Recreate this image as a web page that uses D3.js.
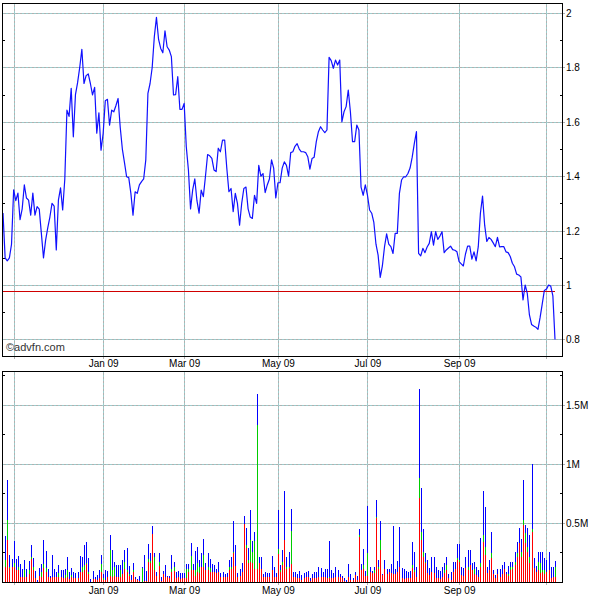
<!DOCTYPE html>
<html><head><meta charset="utf-8">
<script src="https://cdn.jsdelivr.net/npm/d3@7"></script>
<style>
body{margin:0;background:#fff;}
svg{display:block;font-family:"Liberation Sans",Arial,sans-serif;}
</style></head>
<body>
<svg id="c" width="600" height="600"></svg>
<script>
// ---- data (trading-day index 0..259, late Oct 2008 -> early Nov 2009) ----
const price = [
1.265,1.10,1.089,1.10,1.15,1.35,1.31,1.338,1.24,1.28,
1.368,1.32,1.312,1.257,1.338,1.257,1.288,1.279,1.19,1.10,
1.165,1.21,1.25,1.30,1.29,1.129,1.312,1.357,1.276,1.39,
1.643,1.62,1.723,1.545,1.70,1.744,1.80,1.867,1.741,1.77,
1.776,1.741,1.699,1.727,1.558,1.633,1.496,1.558,1.678,1.683,
1.588,1.643,1.637,1.66,1.686,1.58,1.50,1.45,1.398,1.395,
1.337,1.257,1.343,1.337,1.368,1.38,1.39,1.46,1.705,1.741,
1.80,1.913,1.984,1.903,1.87,1.854,1.935,1.876,1.864,1.84,
1.699,1.70,1.766,1.646,1.646,1.668,1.508,1.423,1.28,1.35,
1.39,1.31,1.264,1.349,1.325,1.40,1.48,1.475,1.466,1.423,
1.417,1.503,1.49,1.533,1.533,1.43,1.343,1.355,1.27,1.337,
1.30,1.22,1.30,1.355,1.36,1.28,1.25,1.245,1.33,1.30,
1.44,1.40,1.41,1.34,1.368,1.39,1.46,1.43,1.32,1.376,
1.376,1.43,1.453,1.44,1.40,1.487,1.49,1.51,1.52,1.50,
1.49,1.49,1.487,1.472,1.426,1.465,1.47,1.527,1.564,1.582,
1.57,1.56,1.57,1.837,1.825,1.797,1.827,1.809,1.827,1.60,
1.637,1.656,1.717,1.637,1.527,1.527,1.588,1.57,1.36,1.33,
1.368,1.331,1.276,1.264,1.23,1.15,1.11,1.028,1.07,1.14,
1.188,1.15,1.141,1.116,1.19,1.19,1.337,1.386,1.398,1.398,
1.41,1.43,1.47,1.521,1.564,1.116,1.107,1.135,1.119,1.14,
1.153,1.196,1.147,1.196,1.168,1.18,1.196,1.119,1.129,1.136,
1.143,1.13,1.128,1.122,1.086,1.078,1.07,1.114,1.143,1.143,
1.095,1.122,1.089,1.141,1.264,1.327,1.22,1.16,1.175,1.168,
1.155,1.141,1.175,1.14,1.141,1.141,1.122,1.119,1.105,1.08,
1.067,1.04,1.037,1.03,0.945,1.0,0.969,0.89,0.855,0.849,
0.845,0.837,0.88,0.93,0.98,0.985,1.0,0.996,0.96,0.80
];
const prevClose = 0.977;

// volume segments, thousands of shares
const volRed = [
0,130,356,116,130,130,102,102,45,40,
40,40,68,192,102,31,0,51,40,116,
88,40,31,40,40,40,40,45,31,31,
40,23,40,31,31,31,88,88,102,153,
68,0,23,23,17,31,88,17,17,40,
51,45,51,40,45,40,68,107,88,51,
17,88,23,17,11,0,11,11,172,164,
407,102,51,136,11,68,45,40,31,88,
96,31,40,23,31,31,31,88,102,102,
51,88,79,124,124,102,102,88,88,88,
73,88,45,40,40,40,102,107,249,136,
40,51,88,492,285,164,172,158,110,110,
158,107,45,45,40,40,102,45,40,237,
88,144,356,107,116,153,45,45,31,31,
17,31,40,45,11,31,31,31,40,40,
40,40,31,31,31,31,40,45,45,31,
11,0,45,17,17,59,17,384,102,107,
51,51,88,73,73,540,107,271,59,107,
68,88,73,68,68,88,130,31,23,31,
31,31,116,88,45,709,356,215,158,73,
59,88,73,31,31,23,45,73,102,31,
17,88,107,186,172,59,51,116,102,144,
102,68,59,45,130,342,229,73,102,201,
68,31,68,45,68,107,68,51,102,107,
144,215,328,215,483,328,257,158,427,116,
88,102,73,88,68,88,102,31,45,45
];
const volGreen = [
0,56,169,14,0,28,0,28,0,0,
62,0,34,17,28,0,0,0,48,37,
28,0,0,0,0,0,33,0,0,28,
62,0,19,0,0,0,0,42,42,11,
20,0,0,0,0,0,65,20,0,0,
220,57,79,0,0,62,0,65,14,17,
0,14,0,0,0,120,0,0,20,17,
0,107,0,36,0,0,0,0,0,19,
28,0,0,0,0,0,76,19,118,0,
51,76,51,6,105,0,28,28,0,0,
0,0,0,0,0,0,28,23,8,0,
0,0,0,0,29,22,184,99,240,1221,
0,0,0,0,0,0,0,0,0,40,
14,28,0,23,14,279,0,0,0,0,
0,0,0,0,0,0,0,0,0,0,
0,0,0,9,0,0,0,0,0,0,
0,0,0,0,0,0,0,14,0,37,
0,198,0,0,29,14,23,85,0,0,
0,0,0,0,0,0,0,0,0,0,
0,0,28,14,0,170,71,42,14,0,
0,0,0,0,0,0,0,29,42,0,
0,0,0,15,14,0,0,0,28,0,
0,39,0,0,28,56,70,0,0,42,
0,0,0,0,0,0,0,17,28,23,
28,34,5,42,42,90,42,57,19,0,
0,70,85,14,34,0,0,0,0,85
];
const volBlue = [
0,207,339,99,62,189,90,90,108,67,
84,67,79,105,71,59,17,65,65,203,
150,67,20,189,67,48,71,57,71,48,
107,65,57,57,48,57,132,79,170,175,
113,23,70,17,42,71,76,31,85,56,
127,169,42,104,99,42,118,99,183,68,
42,62,22,6,40,10,218,82,130,68,
70,40,37,77,34,25,99,11,20,122,
48,57,56,56,48,48,46,46,108,51,
164,135,56,119,135,62,119,76,65,56,
34,84,34,48,28,39,56,85,263,178,
39,56,76,70,141,105,254,90,77,262,
57,102,23,43,39,39,118,85,39,333,
42,99,418,85,127,187,43,43,37,62,
42,48,48,48,20,37,57,57,90,76,
48,67,76,310,71,42,90,57,23,20,
20,17,108,51,14,29,34,51,51,136,
42,395,42,20,28,141,56,161,9,79,
39,19,80,409,39,93,339,85,84,62,
57,62,198,155,85,757,373,192,77,113,
57,121,136,99,71,70,85,62,65,37,
71,84,65,121,136,65,65,93,141,127,
62,65,71,57,212,376,339,57,84,184,
34,28,45,68,76,65,20,68,42,42,
85,93,122,105,339,65,156,183,551,85,
48,85,99,155,99,98,155,93,79,51
];

const gridDays = [5,47,85,129,171,214,255];
const labelDays = [47,85,129,171,214];
const monthLabels = ["Jan 09","Mar 09","May 09","Jul 09","Sep 09"];
const priceTicks = [0.8,1.0,1.2,1.4,1.6,1.8,2.0];
const priceTickLabels = ["0.8","1","1.2","1.4","1.6","1.8","2"];
const priceMinor = [0.9,1.1,1.3,1.5,1.7,1.9];
const volTicks = [500,1000,1500];
const volTickLabels = ["0.5M","1M","1.5M"];
const volMinor = [250,750,1250,1750];

// ---- layout ----
const L = 2, R = 562;
const pTop = 3, pBot = 356;
const vTop = 371, vBot = 582;
const svg = d3.select("#c");

const x = d3.scaleLinear().domain([0, price.length - 1]).range([3, 555]);
const yP = d3.scaleLinear().domain([0.739, 2.037]).range([pBot, pTop]);
const yV = d3.scaleLinear().domain([0, 1788]).range([vBot, vTop]);

function grid(g, yTop, yBot, hVals, yScale) {
  const gg = g.append("g").attr("shape-rendering", "crispEdges");
  gridDays.forEach(d => {
    const xx = Math.round(x(d)) + 0.5;
    gg.append("line").attr("x1", xx).attr("x2", xx).attr("y1", yTop).attr("y2", yBot + 3)
      .attr("stroke", "#b0b0b0");
    gg.append("line").attr("x1", xx).attr("x2", xx).attr("y1", yTop).attr("y2", yBot)
      .attr("stroke", "#9ccccc").attr("stroke-dasharray", "2,2");
  });
  hVals.forEach(v => {
    const yy = Math.round(yScale(v)) + 0.5;
    gg.append("line").attr("x1", L).attr("x2", R + 3).attr("y1", yy).attr("y2", yy)
      .attr("stroke", "#b0b0b0");
    gg.append("line").attr("x1", L).attr("x2", R).attr("y1", yy).attr("y2", yy)
      .attr("stroke", "#9ccccc").attr("stroke-dasharray", "2,2");
  });
}

function minorTicks(g, vals, yScale) {
  const gg = g.append("g").attr("shape-rendering", "crispEdges");
  vals.forEach(v => {
    const yy = Math.round(yScale(v)) + 0.5;
    gg.append("line").attr("x1", L).attr("x2", L + 3).attr("y1", yy).attr("y2", yy).attr("stroke", "#000");
    gg.append("line").attr("x1", R - 2).attr("x2", R).attr("y1", yy).attr("y2", yy).attr("stroke", "#000");
  });
}

function frame(g, yTop, yBot) {
  g.append("rect").attr("x", L + 0.5).attr("y", yTop + 0.5)
    .attr("width", R - L).attr("height", yBot - yTop)
    .attr("fill", "none").attr("stroke", "#000").attr("shape-rendering", "crispEdges");
}

function dateAxis(g, yBot, baseline) {
  const ax = d3.axisBottom(x).tickValues(labelDays)
    .tickFormat((d, i) => monthLabels[i]).tickSize(0).tickPadding(0);
  const a = g.append("g").attr("transform", `translate(0,${baseline})`).call(ax);
  a.select(".domain").remove();
  a.selectAll("text").attr("dy", 0).attr("y", 0)
    .attr("font-size", "10px").attr("font-family", "Liberation Sans, Arial, sans-serif").attr("fill", "#000");
}

function valueAxis(g, scale, vals, labels) {
  const ax = d3.axisRight(scale).tickValues(vals)
    .tickFormat((d, i) => labels[i]).tickSize(0).tickPadding(0);
  const a = g.append("g").attr("transform", `translate(${R + 4},0)`).call(ax);
  a.select(".domain").remove();
  a.selectAll("text").attr("x", 0).attr("dy", "0.35em")
    .attr("font-size", "10px").attr("font-family", "Liberation Sans, Arial, sans-serif").attr("fill", "#000");
}

// ---- price panel ----
const gp = svg.append("g");
grid(gp, pTop, pBot, priceTicks, yP);
minorTicks(gp, priceMinor, yP);

gp.append("line")
  .attr("x1", L).attr("x2", x(price.length - 1))
  .attr("y1", Math.round(yP(prevClose)) + 0.5).attr("y2", Math.round(yP(prevClose)) + 0.5)
  .attr("stroke", "#d00000").attr("stroke-width", 1).attr("shape-rendering", "crispEdges");

const line = d3.line().x((d, i) => x(i)).y(d => yP(d));
gp.append("path").datum(price).attr("d", line)
  .attr("fill", "none").attr("stroke", "#1010ff").attr("stroke-width", 1.2)
  .attr("stroke-linejoin", "round");

gp.append("text").attr("x", 6).attr("y", 351).text("\u00a9advfn.com")
  .attr("font-size", "11px").attr("fill", "#333");

frame(gp, pTop, pBot);
dateAxis(gp, pBot, 367);
valueAxis(gp, yP, priceTicks, priceTickLabels);

// ---- volume panel ----
const gv = svg.append("g");
grid(gv, vTop, vBot, volTicks, yV);
minorTicks(gv, volMinor, yV);

const stack = price.map((p, i) => ({ i, r: volRed[i], g: volGreen[i], b: volBlue[i] }));
const bars = gv.append("g").attr("shape-rendering", "crispEdges");
function seg(lo, hi, color) {
  bars.selectAll(null).data(stack.filter(d => hi(d) > lo(d))).join("rect")
    .attr("x", d => Math.round(x(d.i)))
    .attr("width", 1)
    .attr("y", d => yV(hi(d)))
    .attr("height", d => yV(lo(d)) - yV(hi(d)))
    .attr("fill", color);
}
seg(d => 0, d => d.r, "#ff0000");
seg(d => d.r, d => d.r + d.g, "#00cc00");
seg(d => d.r + d.g, d => d.r + d.g + d.b, "#0000ff");

frame(gv, vTop, vBot);
dateAxis(gv, vBot, 594);
valueAxis(gv, yV, volTicks, volTickLabels);
</script>
</body></html>
